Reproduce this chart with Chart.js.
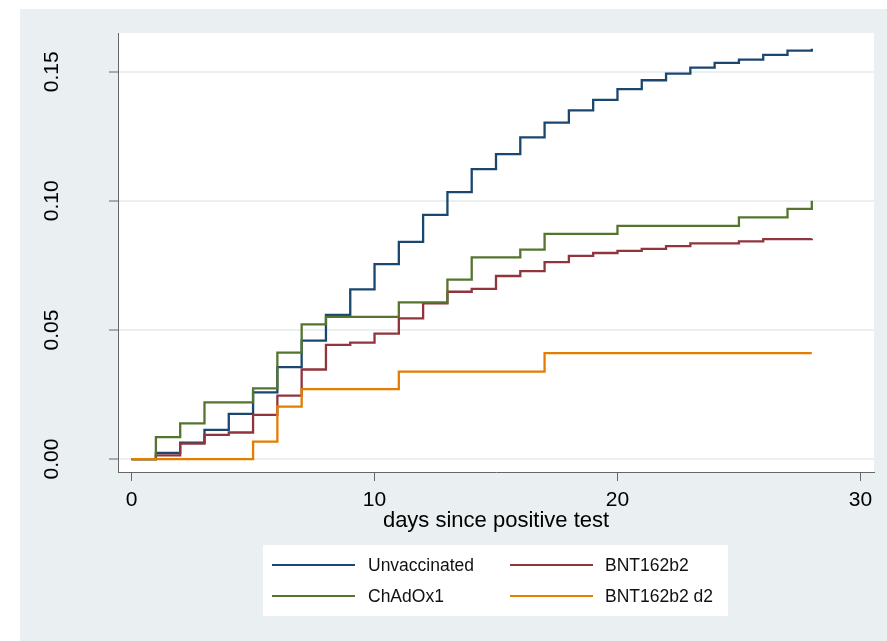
<!DOCTYPE html>
<html><head><meta charset="utf-8">
<script src="https://cdn.jsdelivr.net/npm/chart.js@4.4.1/dist/chart.umd.min.js"></script>
<style>html,body{margin:0;padding:0;background:#fff;}canvas{display:block;}</style>
</head><body>
<canvas id="c" width="887" height="641"></canvas>
<script>
const days = [0,1,2,3,4,5,6,7,8,9,10,11,12,13,14,15,16,17,18,19,20,21,22,23,24,25,26,27,28];
const unvaccinated = [0,0.0024,0.0064,0.0113,0.0175,0.0258,0.0356,0.0459,0.0558,0.0657,0.0755,0.0841,0.0946,0.1034,0.1123,0.1181,0.1246,0.1303,0.1350,0.1391,0.1433,0.1467,0.1493,0.1516,0.1534,0.1547,0.1565,0.1582,0.1589];
const bnt162b2 = [0,0.0014,0.0060,0.0094,0.0103,0.0171,0.0246,0.0347,0.0442,0.0451,0.0486,0.0545,0.0603,0.0648,0.0659,0.0709,0.0728,0.0763,0.0787,0.0798,0.0806,0.0814,0.0825,0.0835,0.0835,0.0843,0.0852,0.0852,0.0853];
const chadox1 = [0,0.0085,0.0138,0.0220,0.0220,0.0274,0.0412,0.0522,0.0551,0.0551,0.0551,0.0607,0.0607,0.0695,0.0781,0.0781,0.0811,0.0872,0.0872,0.0872,0.0903,0.0903,0.0903,0.0903,0.0903,0.0936,0.0936,0.0969,0.1000];
const bnt162b2d2 = [0,0,0,0,0,0.0068,0.0203,0.0271,0.0271,0.0271,0.0271,0.0339,0.0339,0.0339,0.0339,0.0339,0.0339,0.0410,0.0410,0.0410,0.0410,0.0410,0.0410,0.0410,0.0410,0.0410,0.0410,0.0410,0.0410];
const seriesNames = ['Unvaccinated','BNT162b2','ChAdOx1','BNT162b2 d2'];
const xTicks = [0,10,20,30];
const xTickLabels = ['0','10','20','30'];
const yTicks = [0,0.05,0.10,0.15];
const yTickLabels = ['0.00','0.05','0.10','0.15'];
const xTitle = 'days since positive test';

const FONT = "'Liberation Sans', Arial, sans-serif";
const colors = ['#1a476f','#90353b','#55752f','#e37e00'];
const seriesValues = [unvaccinated, bnt162b2, chadox1, bnt162b2d2];
const BG = '#eaf0f2';

const datasets = seriesValues.map((vals, i) => ({
  label: seriesNames[i],
  data: days.map((d, j) => ({x: d, y: vals[j]})),
  borderColor: colors[i],
  backgroundColor: colors[i],
  borderWidth: 2.3,
  pointRadius: 0,
  stepped: 'before',
  fill: false,
  order: 4 - i
}));

const bgPlugin = {
  id: 'bg',
  beforeDraw(chart) {
    const ctx = chart.ctx, a = chart.chartArea;
    ctx.save();
    ctx.fillStyle = '#fff';
    ctx.fillRect(0, 0, chart.width, chart.height);
    ctx.fillStyle = BG;
    ctx.fillRect(20, 9, chart.width - 20, chart.height - 9);
    ctx.fillStyle = '#fff';
    ctx.fillRect(a.left, a.top, a.right - a.left, a.bottom - a.top);
    ctx.restore();
  }
};

const legendPlugin = {
  id: 'customLegend',
  afterDraw(chart) {
    const ctx = chart.ctx;
    ctx.save();
    ctx.fillStyle = '#fff';
    ctx.fillRect(263, 545, 465, 71);
    const layout = [
      {i: 0, lx: 272, tx: 368, y: 565},
      {i: 1, lx: 510, tx: 605, y: 565},
      {i: 2, lx: 272, tx: 368, y: 596},
      {i: 3, lx: 510, tx: 605, y: 596}
    ];
    ctx.font = '17.5px ' + FONT;
    ctx.textBaseline = 'middle';
    ctx.textAlign = 'left';
    layout.forEach(o => {
      const ds = chart.data.datasets[o.i];
      ctx.strokeStyle = ds.borderColor;
      ctx.lineWidth = 2;
      ctx.beginPath();
      ctx.moveTo(o.lx, o.y);
      ctx.lineTo(o.lx + 83, o.y);
      ctx.stroke();
      ctx.fillStyle = '#111';
      ctx.fillText(ds.label, o.tx, o.y + 1);
    });
    ctx.restore();
  }
};

new Chart(document.getElementById('c'), {
  type: 'line',
  data: { datasets },
  options: {
    responsive: false,
    animation: false,
    devicePixelRatio: 1,
    layout: { padding: { top: 33, right: 13, left: 0, bottom: 0 } },
    plugins: { legend: { display: false }, tooltip: { enabled: false } },
    scales: {
      x: {
        type: 'linear',
        min: -0.56,
        max: 30.56,
        afterBuildTicks: s => { s.ticks = xTicks.map(v => ({value: v})); },
        afterFit: s => { s.height = 169; s.paddingLeft = 0; s.paddingRight = 0; s.paddingTop = 0; s.paddingBottom = 0; },
        ticks: {
          autoSkip: false, maxRotation: 0, minRotation: 0,
          padding: 7, color: '#000',
          font: { family: FONT, size: 21 },
          callback: v => xTickLabels[xTicks.indexOf(v)]
        },
        grid: { drawOnChartArea: false, drawTicks: true, tickLength: 9, tickColor: '#666', tickWidth: 1 },
        border: { display: true, color: '#666', width: 1 },
        title: { display: true, text: xTitle, color: '#000', font: { family: FONT, size: 22 }, padding: { top: 0, bottom: 107 } }
      },
      y: {
        type: 'linear',
        min: -0.005,
        max: 0.165,
        afterBuildTicks: s => { s.ticks = yTicks.map(v => ({value: v})); },
        afterFit: s => { s.width = 118; s.paddingTop = 0; s.paddingBottom = 0; s.paddingLeft = 0; s.paddingRight = 0; },
        ticks: {
          autoSkip: false, minRotation: 90, maxRotation: 90, crossAlign: 'center',
          padding: 36, color: '#000',
          font: { family: FONT, size: 21 },
          callback: v => yTickLabels[yTicks.findIndex(t => Math.abs(t - v) < 1e-9)]
        },
        grid: { color: BG, lineWidth: 2, drawTicks: true, tickLength: 9, tickColor: '#666', tickWidth: 1 },
        border: { display: true, color: '#666', width: 1 }
      }
    }
  },
  plugins: [bgPlugin, legendPlugin]
});
</script>
</body></html>
